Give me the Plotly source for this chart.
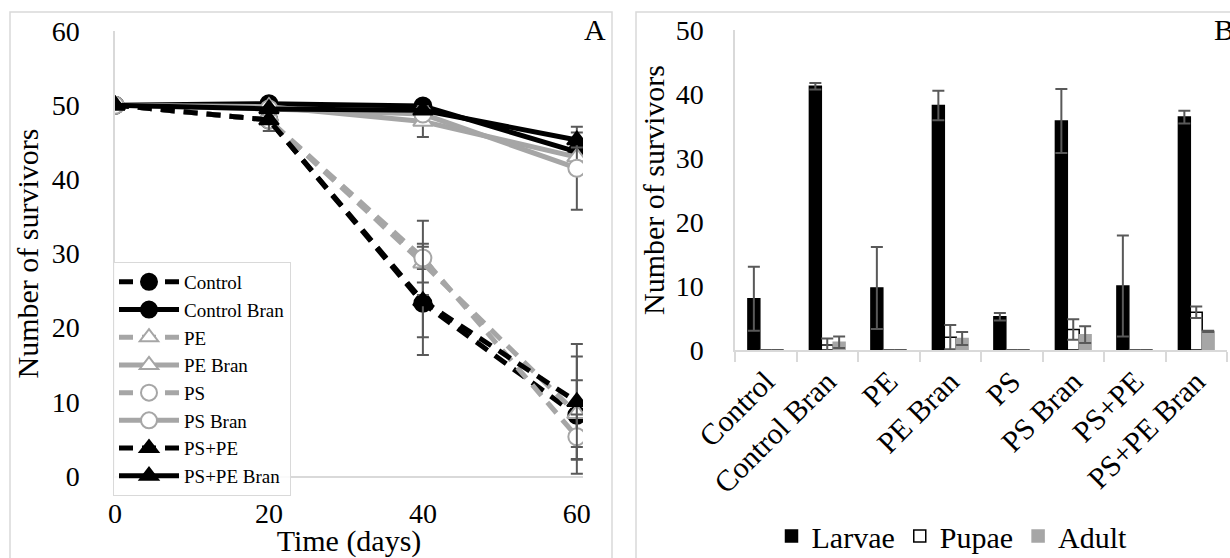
import plotly.graph_objects as go

# ---------------- Panel A data ----------------
days = [0, 20, 40, 60]
series_names = ["Control", "Control Bran", "PE", "PE Bran", "PS", "PS Bran", "PS+PE", "PS+PE Bran"]
control = [50, 48.0, 23.3, 8.2]
control_bran = [50, 50.2, 49.9, 43.7]
pe = [50, 48.0, 28.7, 8.4]
pe_bran = [50, 49.8, 47.8, 43.0]
ps = [50, 48.0, 29.4, 5.3]
ps_bran = [50, 49.5, 48.8, 41.5]
ps_pe = [50, 48.0, 23.6, 10.0]
ps_pe_bran = [50, 49.5, 49.3, 45.3]

control_err = [None, 1.5, 4.6, 7.9]
control_bran_err = [None, None, None, None]
pe_err = [None, 1.5, 2.6, 4.5]
pe_bran_err = [None, None, 2.1, None]
ps_err = [None, 1.5, 5.0, 3.0]
ps_bran_err = [None, None, None, 5.6]
ps_pe_err = [None, 1.5, 7.3, 7.8]
ps_pe_bran_err = [None, None, None, 1.0]

y_ticks_a = [0, 10, 20, 30, 40, 50, 60]
x_ticks_a = [0, 20, 40, 60]

# ---------------- Panel B data ----------------
categories = ["Control", "Control Bran", "PE", "PE Bran", "PS", "PS Bran", "PS+PE", "PS+PE Bran"]
larvae = [8.0, 41.2, 9.7, 38.2, 5.2, 35.8, 10.0, 36.4]
larvae_err = [5.0, 0.5, 6.4, 2.3, 0.6, 5.0, 7.9, 1.0]
pupae = [0, 0.8, 0, 2.0, 0, 3.2, 0, 5.9]
pupae_err = [None, 1.0, None, 1.9, None, 1.6, None, 0.9]
adult = [0, 1.2, 0, 1.8, 0, 2.4, 0, 2.9]
adult_err = [None, 0.9, None, 1.0, None, 1.3, None, 0.1]
y_ticks_b = [0, 10, 20, 30, 40, 50]

BLACK = "#000000"
GRAY = "#a6a6a6"
ERR = "#595959"
AXIS = "#d9d9d9"
FONT = "Liberation Serif, Times New Roman, serif"
DASH = "14px,9px"

def f(size):
    return dict(family=FONT, size=size, color="black")

fig = go.Figure()

styles = [
    (control, control_err, BLACK, DASH, "circle", BLACK, BLACK),
    (control_bran, control_bran_err, BLACK, "solid", "circle", BLACK, BLACK),
    (pe, pe_err, GRAY, DASH, "triangle-up", "white", GRAY),
    (pe_bran, pe_bran_err, GRAY, "solid", "triangle-up", "white", GRAY),
    (ps, ps_err, GRAY, DASH, "circle", "white", GRAY),
    (ps_bran, ps_bran_err, GRAY, "solid", "circle", "white", GRAY),
    (ps_pe, ps_pe_err, BLACK, DASH, "triangle-up", BLACK, BLACK),
    (ps_pe_bran, ps_pe_bran_err, BLACK, "solid", "triangle-up", BLACK, BLACK),
]

for name, (vals, errs, col, dash, sym, fill, edge) in zip(series_names, styles):
    fig.add_trace(go.Scatter(
        x=days, y=vals, name=name, mode="lines+markers",
        line=dict(color=col, width=5, dash=dash),
        marker=dict(symbol=sym, size=17, color=fill, line=dict(color=edge, width=2)),
        error_y=dict(type="data", array=errs, visible=True, color=ERR, thickness=2, width=6),
        xaxis="x", yaxis="y", legend="legend",
    ))

bar_specs = [
    ("Larvae", larvae, larvae_err, BLACK, BLACK),
    ("Pupae", pupae, pupae_err, "white", BLACK),
    ("Adult", adult, adult_err, GRAY, GRAY),
]
for name, vals, errs, fill, edge in bar_specs:
    fig.add_trace(go.Bar(
        x=categories, y=vals, name=name,
        marker=dict(color=fill, line=dict(color=edge, width=1.5)),
        error_y=dict(type="data", array=errs, visible=True, color=ERR, thickness=2, width=6),
        xaxis="x2", yaxis="y2", legend="legend2",
    ))

W, H = 1230, 558
def px_x(p):
    return p / W
def px_y(p):
    return 1 - p / H

fig.update_layout(
    width=W, height=H, margin=dict(l=0, r=0, t=0, b=0, autoexpand=False),
    paper_bgcolor="white", plot_bgcolor="white",
    font=f(28),
    barmode="group", bargap=0.42, bargroupgap=0,
    showlegend=True,
    xaxis=dict(domain=[px_x(115), px_x(583)], range=[0, 60.8], tickvals=x_ticks_a,
               showgrid=False, zeroline=False, showline=True, linecolor=AXIS, linewidth=1.5,
               ticks="outside", ticklen=12, tickcolor="rgba(0,0,0,0)",
               tickfont=f(28), automargin=False,
               title=dict(text="Time (days)", font=f(30), standoff=0),
               anchor="y"),
    yaxis=dict(domain=[px_y(476), px_y(31)], range=[0, 60], tickvals=y_ticks_a,
               showgrid=False, zeroline=False, showline=True, linecolor=AXIS, linewidth=1.5,
               ticks="outside", ticklen=28, tickcolor="rgba(0,0,0,0)",
               tickfont=f(28), automargin=False,
               title=dict(text="Number of survivors", font=f(30), standoff=4),
               anchor="x"),
    xaxis2=dict(domain=[px_x(735), px_x(1227)], type="category",
                showgrid=False, zeroline=False, showline=True, linecolor=AXIS, linewidth=2,
                ticks="outside", ticklen=10, tickcolor=AXIS, tickwidth=2, tickson="boundaries",
                tickangle=-45, tickfont=f(30), automargin=False, anchor="y2"),
    yaxis2=dict(domain=[px_y(350), px_y(30)], range=[0, 50], tickvals=y_ticks_b,
                showgrid=False, zeroline=False, showline=True, linecolor=AXIS, linewidth=1.5,
                ticks="outside", ticklen=24, tickcolor="rgba(0,0,0,0)",
                tickfont=f(28), automargin=False,
                title=dict(text="Number of survivors", font=f(30), standoff=2),
                anchor="x2"),
    legend=dict(x=px_x(113), y=px_y(262), xanchor="left", yanchor="top",
                bgcolor="rgba(255,255,255,0.85)", bordercolor=AXIS, borderwidth=1,
                font=dict(family="Liberation Serif", size=19, color="black"),
                tracegroupgap=0, itemwidth=60),
    legend2=dict(orientation="h", x=px_x(952), y=px_y(536), xanchor="center", yanchor="middle",
                 bgcolor="rgba(0,0,0,0)", font=dict(family="Liberation Serif", size=30, color="black"),
                 itemwidth=30),
    shapes=[
        dict(type="rect", xref="paper", yref="paper", x0=px_x(10), x1=px_x(612),
             y0=-0.05, y1=px_y(12), line=dict(color=AXIS, width=1.5), fillcolor="rgba(0,0,0,0)", layer="below"),
        dict(type="rect", xref="paper", yref="paper", x0=px_x(636), x1=1.05,
             y0=-0.05, y1=px_y(12), line=dict(color=AXIS, width=1.5), fillcolor="rgba(0,0,0,0)", layer="below"),
    ],
    annotations=[
        dict(text="A", xref="paper", yref="paper", x=px_x(608), y=px_y(30), xanchor="right",
             yanchor="middle", showarrow=False, font=f(30)),
        dict(text="B", xref="paper", yref="paper", x=px_x(1212), y=px_y(30), xanchor="left",
             yanchor="middle", showarrow=False, font=f(30)),
    ],
)

fig.write_html("out.html")
